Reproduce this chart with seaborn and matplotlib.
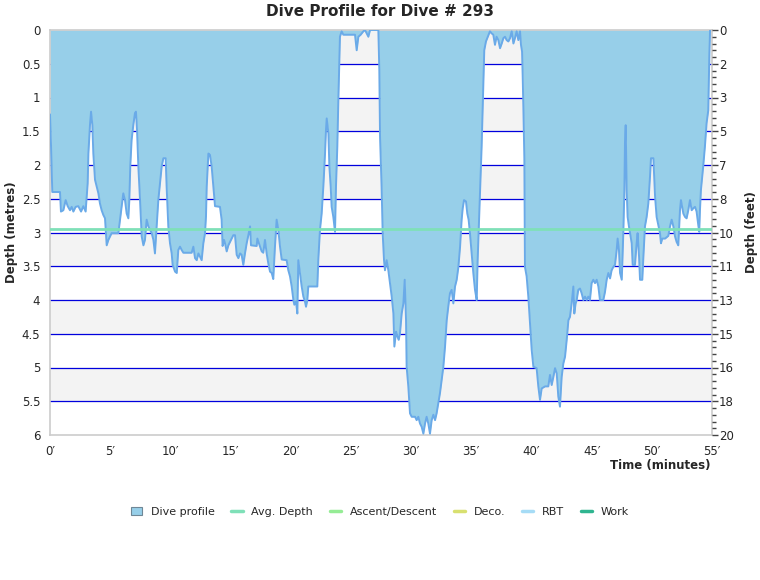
import matplotlib
matplotlib.use("Agg")
import matplotlib.pyplot as plt
from matplotlib.lines import Line2D
from matplotlib.patches import Patch
import seaborn as sns
import pandas as pd

# dive profile: time in minutes, depth in metres
minutes = [0.0, 0.08, 0.14, 0.19, 0.83, 0.91, 1.11, 1.30, 1.47, 1.66, 1.80, 1.94, 2.13, 2.35, 2.58,
           2.77, 2.96, 3.13, 3.19, 3.32, 3.41, 3.52, 3.60, 3.74, 3.88, 4.02, 4.15, 4.29, 4.43, 4.57,
           4.71, 4.85, 5.12, 5.68, 5.82, 5.95, 6.09, 6.23, 6.37, 6.51, 6.59, 6.67, 6.78, 6.92, 7.06,
           7.14, 7.23, 7.34, 7.48, 7.62, 7.76, 7.89, 8.03, 8.17, 8.45, 8.59, 8.72, 8.86, 9.00, 9.14,
           9.28, 9.42, 9.61, 9.69, 9.83, 9.97, 10.11, 10.19, 10.39, 10.53, 10.66, 10.80, 10.94, 11.08,
           11.77, 11.91, 12.05, 12.19, 12.33, 12.46, 12.60, 12.74, 12.88, 12.96, 13.02, 13.16, 13.29,
           13.43, 13.57, 13.71, 14.12, 14.26, 14.34, 14.46, 14.54, 14.68, 14.82, 14.96, 15.09, 15.23,
           15.37, 15.51, 15.65, 15.79, 15.92, 16.06, 16.20, 16.34, 16.48, 16.62, 16.70, 17.17, 17.23,
           17.45, 17.59, 17.72, 17.86, 18.00, 18.14, 18.28, 18.42, 18.55, 18.69, 18.83, 18.97, 19.11,
           19.25, 19.66, 19.80, 19.94, 20.08, 20.22, 20.30, 20.44, 20.55, 20.63, 20.77, 20.91, 21.05,
           21.18, 21.27, 21.38, 21.46, 22.21, 22.29, 22.43, 22.57, 22.71, 22.85, 22.93, 22.99, 23.13,
           23.21, 23.32, 23.40, 23.54, 23.68, 23.76, 23.87, 23.95, 24.04, 24.09, 24.23, 24.37, 25.34,
           25.48, 25.62, 25.81, 26.03, 26.17, 26.45, 26.59, 27.28, 27.36, 27.42, 27.55, 27.64, 27.75,
           27.83, 27.97, 28.11, 28.25, 28.39, 28.53, 28.61, 28.75, 28.86, 28.97, 29.08, 29.22, 29.36,
           29.47, 29.58, 29.63, 29.77, 29.91, 30.05, 30.33, 30.46, 30.60, 30.74, 30.88, 31.02, 31.16,
           31.29, 31.43, 31.57, 31.71, 31.85, 31.99, 32.12, 32.26, 32.40, 32.54, 32.68, 32.82, 32.96,
           33.09, 33.23, 33.37, 33.51, 33.65, 33.79, 33.93, 34.07, 34.20, 34.29, 34.40, 34.56, 34.67,
           34.78, 34.89, 35.03, 35.17, 35.31, 35.45, 35.53, 35.61, 35.72, 35.86, 36.00, 36.08, 36.22,
           36.33, 36.55, 36.69, 36.83, 36.97, 37.10, 37.25, 37.39, 37.53, 37.67, 37.80, 37.94, 38.08,
           38.22, 38.36, 38.50, 38.63, 38.77, 38.91, 39.05, 39.13, 39.22, 39.27, 39.33, 39.41, 39.46,
           39.60, 39.74, 39.88, 40.02, 40.16, 40.43, 40.57, 40.71, 40.85, 41.13, 41.40, 41.54, 41.68,
           41.82, 41.96, 42.10, 42.23, 42.37, 42.51, 42.65, 42.79, 42.93, 43.07, 43.20, 43.34, 43.48,
           43.56, 43.67, 43.76, 43.89, 44.03, 44.17, 44.31, 44.45, 44.59, 44.72, 44.86, 45.00, 45.14,
           45.28, 45.42, 45.56, 45.69, 45.97, 46.11, 46.25, 46.39, 46.53, 46.66, 46.80, 46.94, 47.08,
           47.16, 47.27, 47.36, 47.50, 47.55, 47.64, 47.72, 47.77, 47.83, 47.91, 47.99, 48.10, 48.19,
           48.33, 48.41, 48.60, 48.74, 48.82, 48.94, 49.02, 49.21, 49.30, 49.43, 49.57, 49.71, 49.85,
           49.93, 50.13, 50.21, 50.27, 50.40, 50.54, 50.68, 50.76, 50.87, 51.10, 51.37, 51.51, 51.65,
           51.79, 51.93, 52.06, 52.20, 52.34, 52.42, 52.62, 52.76, 52.89, 53.03, 53.17, 53.31, 53.45,
           53.59, 53.72, 53.86, 53.94, 54.00, 54.08, 54.19, 54.27, 54.41, 54.55, 54.69, 54.78, 54.84]
depth_m = [1.25, 1.68, 2.10, 2.40, 2.40, 2.69, 2.67, 2.52, 2.61, 2.67, 2.62, 2.69, 2.62, 2.61, 2.69,
           2.61, 2.69, 2.27, 1.83, 1.41, 1.21, 1.41, 1.83, 2.22, 2.32, 2.42, 2.57, 2.67, 2.74, 2.79,
           3.19, 3.11, 3.01, 3.01, 2.81, 2.62, 2.42, 2.52, 2.72, 2.79, 2.52, 2.02, 1.63, 1.41, 1.23,
           1.21, 1.48, 2.02, 2.52, 3.06, 3.19, 3.11, 2.81, 2.91, 3.01, 3.11, 3.31, 2.91, 2.52, 2.27,
           2.02, 1.90, 1.90, 2.32, 2.91, 3.16, 3.31, 3.48, 3.58, 3.60, 3.26, 3.21, 3.26, 3.30,
           3.30, 3.21, 3.38, 3.41, 3.31, 3.36, 3.41, 3.16, 3.01, 2.76, 2.32, 1.83, 1.85,
           2.02, 2.32, 2.61, 2.62, 2.81, 3.20, 3.11, 3.16, 3.28, 3.19, 3.14, 3.09, 3.04,
           3.04, 3.33, 3.38, 3.31, 3.33, 3.48, 3.31, 3.16, 3.04, 2.91, 3.19, 3.20, 3.09,
           3.21, 3.28, 3.30, 3.11, 3.31, 3.46, 3.58, 3.60, 3.69, 3.21, 2.81, 2.96, 3.21,
           3.40, 3.41, 3.56, 3.65, 3.80, 4.00, 4.07, 4.02, 4.20, 3.41, 3.60, 3.80, 3.95,
           4.02, 4.10, 4.00, 3.80, 3.80, 3.41, 2.96, 2.72, 2.32, 1.83, 1.48, 1.31, 1.53,
           2.02, 2.32, 2.62, 2.77, 2.99, 2.32, 1.73, 1.09, 0.49, 0.10, 0.02, 0.07, 0.07,
           0.30, 0.10, 0.07, 0.02, 0.0, 0.10, 0.0, 0.0, 0.59, 1.58, 2.32, 3.01, 3.41,
           3.56, 3.41, 3.56, 3.75, 3.95, 4.20, 4.69, 4.47, 4.54, 4.59, 4.49, 4.20, 4.05,
           3.70, 4.30, 4.99, 5.28, 5.68, 5.73, 5.73, 5.78, 5.73, 5.83, 5.88, 5.98, 5.83,
           5.73, 5.83, 5.98, 5.78, 5.70, 5.78, 5.68, 5.53, 5.38, 5.19, 4.99, 4.69, 4.30,
           4.10, 3.90, 3.85, 4.05, 3.80, 3.70, 3.51, 3.21, 2.81, 2.64, 2.52, 2.54, 2.72,
           2.81, 3.01, 3.31, 3.60, 3.85, 4.00, 3.41, 3.01, 2.42, 1.73, 0.84, 0.30, 0.17,
           0.12, 0.02, 0.05, 0.07, 0.22, 0.10, 0.15, 0.27, 0.20, 0.12, 0.10, 0.15, 0.17,
           0.12, 0.02, 0.20, 0.12, 0.02, 0.15, 0.02, 0.22, 0.32, 0.67, 1.16, 1.90, 3.51,
           3.65, 3.95, 4.35, 4.74, 4.99, 5.01, 5.28, 5.48, 5.31, 5.28, 5.28, 5.11, 5.26,
           5.14, 5.01, 5.09, 5.43, 5.58, 5.14, 4.94, 4.84, 4.59, 4.30, 4.25, 4.05, 3.80,
           4.20, 4.05, 4.00, 3.85, 3.83, 3.90, 4.00, 3.95, 4.00, 3.95, 4.00, 3.75, 3.70,
           3.75, 3.70, 3.80, 4.00, 4.00, 3.88, 3.70, 3.60, 3.68, 3.56, 3.51, 3.48, 3.26,
           3.09, 3.26, 3.60, 3.70, 3.46, 2.96, 2.37, 1.68, 1.41, 2.37, 2.77, 2.91, 3.01,
           3.16, 3.48, 3.48, 3.16, 3.01, 3.36, 3.70, 3.70, 3.36, 2.91, 2.77, 2.57, 2.17,
           1.90, 1.90, 2.22, 2.47, 2.77, 2.89, 3.01, 3.16, 3.09, 3.09, 3.05, 2.91, 2.81,
           2.91, 3.06, 3.14, 3.19, 2.67, 2.52, 2.72, 2.77, 2.79, 2.67, 2.52, 2.67, 2.64,
           2.62, 2.69, 2.89, 2.99, 2.67, 2.37, 2.17, 2.02, 1.73, 1.38, 1.19, 0.37, 0.0]

avg_depth = 2.95
depth_ticks = [0, 0.5, 1, 1.5, 2, 2.5, 3, 3.5, 4, 4.5, 5, 5.5, 6]
feet_labels = ["0", "2", "3", "5", "7", "8", "10", "11", "13", "15", "16", "18", "20"]
time_ticks = [0, 5, 10, 15, 20, 25, 30, 35, 40, 45, 50, 55]
legend_names = ["Dive profile", "Avg. Depth", "Ascent/Descent", "Deco.", "RBT", "Work"]
legend_colors = ["#97cfe9", "#7fe0b8", "#95ec95", "#d8e070", "#a6dcf6", "#2fb590"]

df = pd.DataFrame({"time": minutes, "depth": depth_m})

sns.set_style("white")
plt.rcParams["font.family"] = ["DejaVu Sans"]

fig = plt.figure(figsize=(7.6, 5.8), dpi=100)
ax = fig.add_axes([50 / 760, 1 - 435 / 580, 662 / 760, 405 / 580])

# alternating bands and blue grid lines
for i in range(12):
    if i % 2 == 0:
        ax.axhspan(i * 0.5, i * 0.5 + 0.5, color="#f3f3f3", zorder=0)
for d in depth_ticks[1:-1]:
    ax.axhline(d, color="#0000dd", lw=0.9, zorder=1)

ax.fill_between(df["time"], 0, df["depth"], color="#97cfe9", lw=0, zorder=2)
sns.lineplot(data=df, x="time", y="depth", ax=ax, color="#6aaae8", lw=1.4,
             estimator=None, sort=False, zorder=3)
ax.axhline(avg_depth, color=legend_colors[1], lw=2, zorder=4)

ax.set_xlim(0, 55)
ax.set_ylim(6, 0)
ax.set_xticks(time_ticks)
ax.set_xticklabels([f"{t}\u2032" for t in time_ticks], fontsize=8.5)
ax.set_yticks(depth_ticks)
ax.set_yticklabels([f"{d:g}" for d in depth_ticks], fontsize=8.5)
ax.tick_params(axis="both", length=0, pad=7)
ax.set_xlabel("")
ax.set_ylabel("")
for s in ax.spines.values():
    s.set_color("#cccccc")
    s.set_linewidth(1.2)

ax2 = ax.twinx()
ax2.set_ylim(6, 0)
ax2.set_yticks(depth_ticks)
ax2.set_yticklabels(feet_labels, fontsize=8.5)
ax2.set_yticks([i / 10 for i in range(61)], minor=True)
ax2.tick_params(axis="y", which="major", length=4, width=1, color="#444444", pad=1)
ax2.tick_params(axis="y", which="minor", length=3, width=1, color="#444444")
for s in ax2.spines.values():
    s.set_visible(False)

fig.text(0.5, 1 - 12 / 580, "Dive Profile for Dive # 293", ha="center", va="center",
         fontsize=11, fontweight="bold")
fig.text(12 / 760, 0.6, "Depth (metres)", rotation=90, ha="center", va="center",
         fontsize=8.5, fontweight="bold")
fig.text(751 / 760, 0.6, "Depth (feet)", rotation=90, ha="center", va="center",
         fontsize=8.5, fontweight="bold")
fig.text(711 / 760, 1 - 466 / 580, "Time (minutes)", ha="right", va="center",
         fontsize=8.5, fontweight="bold")

handles = [Patch(facecolor=legend_colors[0], edgecolor="#6f8796", lw=0.8)]
handles += [Line2D([], [], color=c, lw=2.5) for c in legend_colors[1:]]
fig.legend(handles, legend_names, loc="center", bbox_to_anchor=(0.5, 1 - 512 / 580),
           ncol=6, frameon=False, fontsize=8, handlelength=1.0, handleheight=0.8,
           handletextpad=0.8, columnspacing=1.5)

fig.savefig("out.png", dpi=100)
